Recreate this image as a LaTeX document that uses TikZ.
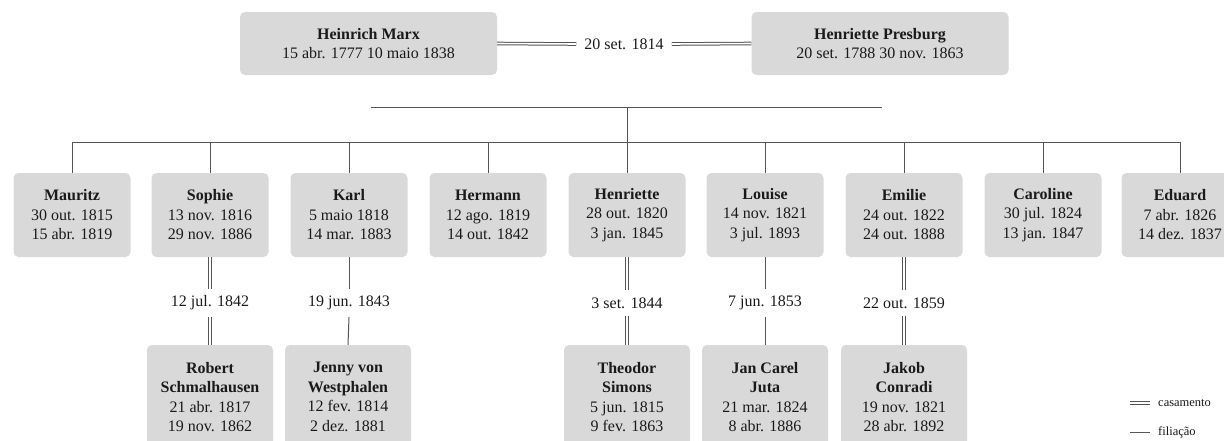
\documentclass[tikz,border=0pt]{standalone}
\usepackage{fontspec}
\setmainfont{Liberation Serif}
\definecolor{boxgray}{HTML}{D9D9D9}
\definecolor{linegray}{HTML}{555555}
\definecolor{txt}{HTML}{1A1A1A}
\begin{document}
\begin{tikzpicture}[x=1pt,y=-1pt,
  box/.style={fill=boxgray, rounded corners=5pt, align=center, text=txt,
    font=\fontsize{16}{19.5}\selectfont, inner sep=0pt},
  parent/.style={box, minimum width=257pt, minimum height=63pt},
  kid/.style={box, minimum width=117pt, minimum height=84pt},
  spouse/.style={box, minimum width=126pt, minimum height=104pt},
  wed/.style={draw=linegray, double=white, double distance=1.6pt, line width=1pt},
  kin/.style={draw=linegray, line width=1pt},
  wdate/.style={font=\fontsize{16}{19.5}\selectfont, text=txt, inner xsep=8pt, inner ysep=7pt},
  legtext/.style={font=\fontsize{12.5}{14}\selectfont, text=txt, anchor=west, inner sep=0pt}
]
\useasboundingbox (0,0) rectangle (1224,440);

% parents
\node[parent] (hm) at (368.5,43.5) {\textbf{Heinrich Marx}\\15 abr. 1777 10 maio 1838};
\node[parent] (hp) at (880,43.5) {\textbf{Henriette Presburg}\\20 set. 1788 30 nov. 1863};
\node[wdate] (m0) at (624,44) {20 set. 1814};
\draw[wed] (hm.east) -- (m0.west);
\draw[wed] (m0.east) -- (hp.west);

% descent lines
\coordinate (ua) at (371,107);
\coordinate (ub) at (882,107);
\coordinate (uc) at (627,107);
\coordinate (la) at (72,142);
\coordinate (lb) at (1180,142);
\coordinate (lc) at (627,142);
\draw[kin] (ua) -- (ub);
\draw[kin] (uc) -- (lc);
\draw[kin] (la) -- (lb);

% children
\node[kid] (c1) at (72,215) {\textbf{Mauritz}\\30 out. 1815\\15 abr. 1819};
\node[kid] (c2) at (210,215) {\textbf{Sophie}\\13 nov. 1816\\29 nov. 1886};
\node[kid] (c3) at (349,215) {\textbf{Karl}\\5 maio 1818\\14 mar. 1883};
\node[kid] (c4) at (488,215) {\textbf{Hermann}\\12 ago. 1819\\14 out. 1842};
\node[kid] (c5) at (627,215) {\textbf{Henriette}\\28 out. 1820\\3 jan. 1845};
\node[kid] (c6) at (765,215) {\textbf{Louise}\\14 nov. 1821\\3 jul. 1893};
\node[kid] (c7) at (904,215) {\textbf{Emilie}\\24 out. 1822\\24 out. 1888};
\node[kid] (c8) at (1043,215) {\textbf{Caroline}\\30 jul. 1824\\13 jan. 1847};
\node[kid] (c9) at (1180,215) {\textbf{Eduard}\\7 abr. 1826\\14 dez. 1837};
\foreach \i in {1,...,9} {
  \draw[kin] (c\i.north |- la) -- (c\i.north);
}

% spouses
\node[spouse] (s2) at (210,397) {\textbf{Robert}\\\textbf{Schmalhausen}\\21 abr. 1817\\19 nov. 1862};
\node[spouse] (s3) at (348,397) {\textbf{Jenny von}\\\textbf{Westphalen}\\12 fev. 1814\\2 dez. 1881};
\node[spouse] (s5) at (627,397) {\textbf{Theodor}\\\textbf{Simons}\\5 jun. 1815\\9 fev. 1863};
\node[spouse] (s6) at (765,397) {\textbf{Jan Carel}\\\textbf{Juta}\\21 mar. 1824\\8 abr. 1886};
\node[spouse] (s7) at (904,397) {\textbf{Jakob}\\\textbf{Conradi}\\19 nov. 1821\\28 abr. 1892};

% marriage dates
\node[wdate] (d2) at (210,303) {12 jul. 1842};
\node[wdate] (d3) at (349,303) {19 jun. 1843};
\node[wdate] (d5) at (627,303) {3 set. 1844};
\node[wdate] (d6) at (765,303) {7 jun. 1853};
\node[wdate] (d7) at (904,303) {22 out. 1859};

\draw[wed] (c2.south) -- (d2.north);
\draw[wed] (d2.south) -- (s2.north);
\draw[kin] (c3.south) -- (d3.north);
\draw[kin] (d3.south) -- (s3.north);
\draw[wed] (c5.south) -- (d5.north);
\draw[wed] (d5.south) -- (s5.north);
\draw[kin] (c6.south) -- (d6.north);
\draw[kin] (d6.south) -- (s6.north);
\draw[wed] (c7.south) -- (d7.north);
\draw[wed] (d7.south) -- (s7.north);

% legend
\coordinate (l1a) at (1130,403);
\coordinate (l1b) at (1150,403);
\coordinate (l2a) at (1130,432);
\coordinate (l2b) at (1150,432);
\draw[wed] (l1a) -- (l1b);
\draw[kin] (l2a) -- (l2b);
\node[legtext] (lt1) at (1158,403) {casamento};
\node[legtext] (lt2) at (1158,432) {filiação};
\end{tikzpicture}
\end{document}
